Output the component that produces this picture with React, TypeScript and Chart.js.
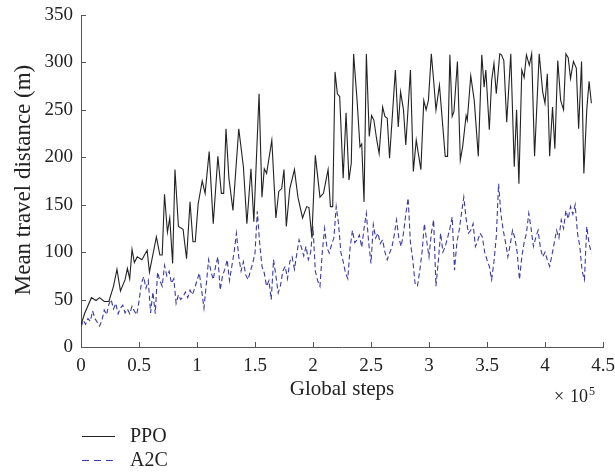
import React, { useEffect, useRef } from "react";
import { Chart, registerables } from "chart.js";

Chart.register(...registerables);

// Global steps in units of 10^5
const ppoSteps = [
  0, 0.03, 0.09, 0.13, 0.16, 0.2, 0.24, 0.28, 0.31, 0.34, 0.38, 0.4, 0.42, 0.44, 0.46, 0.485, 0.525, 0.57, 0.59, 0.65,
  0.68, 0.7, 0.72, 0.745, 0.765, 0.79, 0.81, 0.84, 0.88, 0.91, 0.94, 0.965, 0.985, 1.01, 1.045, 1.07, 1.105, 1.14, 1.18, 1.21,
  1.23, 1.25, 1.275, 1.31, 1.36, 1.4, 1.43, 1.465, 1.49, 1.535, 1.56, 1.58, 1.6, 1.645, 1.68, 1.705, 1.73, 1.75, 1.77, 1.8,
  1.84, 1.87, 1.91, 1.945, 1.965, 1.99, 2.02, 2.06, 2.09, 2.13, 2.15, 2.17, 2.19, 2.21, 2.23, 2.26, 2.285, 2.31, 2.33, 2.35,
  2.38, 2.405, 2.42, 2.44, 2.46, 2.485, 2.505, 2.525, 2.55, 2.57, 2.6, 2.62, 2.64, 2.66, 2.71, 2.735, 2.755, 2.78, 2.8, 2.84,
  2.865, 2.89, 2.93, 2.955, 2.975, 2.995, 3.02, 3.04, 3.06, 3.09, 3.14, 3.16, 3.18, 3.2, 3.215, 3.245, 3.27, 3.29, 3.32, 3.33,
  3.36, 3.39, 3.425, 3.455, 3.475, 3.49, 3.52, 3.54, 3.56, 3.58, 3.61, 3.625, 3.645, 3.67, 3.705, 3.735, 3.755, 3.775, 3.8, 3.82,
  3.84, 3.865, 3.885, 3.91, 3.95, 3.98, 4.0, 4.02, 4.04, 4.065, 4.085, 4.11, 4.135, 4.16, 4.18, 4.2, 4.22, 4.245, 4.27, 4.29,
  4.315, 4.335, 4.36, 4.38, 4.4,
];
const ppoDistance = [
  23, 35, 52, 49, 52, 48, 48, 64, 82, 59, 71, 83, 72, 103, 89, 95, 92, 102, 79, 116,
  97, 97, 161, 121, 136, 88, 187, 127, 124, 93, 153, 111, 111, 151, 175, 162, 206, 130, 201, 162,
  162, 230, 178, 144, 230, 190, 130, 188, 132, 267, 158, 188, 183, 218, 136, 164, 167, 187, 127, 167,
  187, 158, 136, 148, 147, 116, 202, 158, 162, 187, 148, 148, 290, 267, 264, 178, 247, 176, 194, 309,
  260, 211, 214, 153, 309, 222, 244, 239, 218, 204, 253, 243, 241, 199, 292, 232, 269, 250, 213, 292,
  185, 218, 187, 260, 250, 260, 309, 281, 250, 276, 201, 201, 308, 243, 248, 301, 197, 211, 244, 239,
  286, 260, 201, 308, 274, 292, 229, 281, 299, 267, 309, 308, 302, 237, 309, 190, 250, 172, 292, 284,
  308, 297, 309, 201, 309, 269, 257, 288, 201, 253, 209, 302, 260, 250, 309, 305, 283, 301, 294, 230,
  301, 183, 250, 280, 257,
];

const a2cSteps = [
  0, 0.02, 0.04, 0.06, 0.08, 0.1, 0.12, 0.14, 0.16, 0.18, 0.2, 0.22, 0.24, 0.26, 0.28, 0.3, 0.32, 0.34, 0.36, 0.38,
  0.4, 0.42, 0.44, 0.46, 0.48, 0.5, 0.52, 0.54, 0.56, 0.58, 0.6, 0.62, 0.64, 0.66, 0.68, 0.7, 0.72, 0.74, 0.76, 0.78,
  0.8, 0.82, 0.84, 0.86, 0.88, 0.9, 0.92, 0.94, 0.96, 0.98, 1.0, 1.02, 1.04, 1.06, 1.08, 1.1, 1.12, 1.14, 1.16, 1.18,
  1.2, 1.22, 1.24, 1.26, 1.28, 1.3, 1.32, 1.34, 1.36, 1.38, 1.4, 1.42, 1.44, 1.46, 1.48, 1.5, 1.52, 1.54, 1.56, 1.58,
  1.6, 1.62, 1.64, 1.66, 1.68, 1.7, 1.72, 1.74, 1.76, 1.78, 1.8, 1.82, 1.84, 1.86, 1.88, 1.9, 1.92, 1.94, 1.96, 1.98,
  2.0, 2.02, 2.04, 2.06, 2.08, 2.1, 2.12, 2.14, 2.16, 2.18, 2.2, 2.22, 2.24, 2.26, 2.28, 2.3, 2.32, 2.34, 2.36, 2.38,
  2.4, 2.42, 2.44, 2.46, 2.48, 2.5, 2.52, 2.54, 2.56, 2.58, 2.6, 2.62, 2.64, 2.66, 2.68, 2.7, 2.72, 2.74, 2.76, 2.78,
  2.8, 2.82, 2.84, 2.86, 2.88, 2.9, 2.92, 2.94, 2.96, 2.98, 3.0, 3.02, 3.04, 3.06, 3.08, 3.1, 3.12, 3.14, 3.16, 3.18,
  3.2, 3.22, 3.24, 3.26, 3.28, 3.3, 3.32, 3.34, 3.36, 3.38, 3.4, 3.42, 3.44, 3.46, 3.48, 3.5, 3.52, 3.54, 3.56, 3.58,
  3.6, 3.62, 3.64, 3.66, 3.68, 3.7, 3.72, 3.74, 3.76, 3.78, 3.8, 3.82, 3.84, 3.86, 3.88, 3.9, 3.92, 3.94, 3.96, 3.98,
  4.0, 4.02, 4.04, 4.06, 4.08, 4.1, 4.12, 4.14, 4.16, 4.18, 4.2, 4.22, 4.24, 4.26, 4.28, 4.3, 4.32, 4.34, 4.36, 4.38,
  4.4,
];
const a2cDistance = [
  21, 28, 24, 30, 27, 38, 30, 26, 22, 28, 39, 34, 45, 50, 40, 46, 35, 41, 44, 36,
  40, 35, 43, 38, 34, 48, 67, 74, 62, 70, 36, 58, 35, 79, 70, 64, 86, 75, 80, 67,
  72, 46, 55, 50, 53, 58, 52, 60, 55, 62, 70, 78, 60, 41, 66, 92, 80, 71, 85, 95,
  60, 75, 82, 92, 70, 85, 100, 120, 95, 80, 90, 76, 71, 80, 88, 99, 143, 110, 85, 78,
  64, 70, 50, 92, 75, 57, 65, 80, 85, 72, 90, 95, 82, 98, 113, 105, 96, 106, 92, 100,
  127, 80, 70, 64, 100, 125, 105, 99, 108, 115, 148, 130, 100, 90, 78, 72, 105, 123, 110, 113,
  118, 105, 125, 141, 110, 88, 129, 115, 120, 109, 113, 100, 92, 99, 105, 118, 134, 115, 106, 120,
  140, 157, 110, 92, 67, 64, 80, 100, 130, 112, 95, 120, 134, 64, 90, 120, 100, 106, 115, 125,
  137, 81, 110, 123, 141, 158, 135, 120, 123, 130, 106, 112, 120, 116, 100, 92, 85, 71, 90, 116,
  172, 140, 123, 110, 95, 108, 123, 115, 100, 71, 95, 110, 120, 141, 125, 106, 115, 123, 105, 95,
  100, 92, 85, 97, 110, 123, 115, 134, 125, 144, 135, 148, 140, 150, 120, 106, 80, 71, 127, 109,
  99,
];

const xTickValues = [0, 0.5, 1, 1.5, 2, 2.5, 3, 3.5, 4, 4.5];
const yTickValues = [0, 50, 100, 150, 200, 250, 300, 350];
const seriesNames = ["PPO", "A2C"];
const xTitle = "Global steps";
const yTitle = "Mean travel distance (m)";

const PPO_COLOR = "#222222";
const A2C_COLOR = "#3a3aa6";
const TEXT_COLOR = "#222";
const AXIS_COLOR = "#555";
const FONT = '"Liberation Serif", "DejaVu Serif", serif';

const decorPlugin = {
  id: "decor",
  afterDraw(chart: any) {
    const ctx = chart.ctx as CanvasRenderingContext2D;
    const xs = chart.scales.x;
    const ys = chart.scales.y;
    const area = chart.chartArea;
    ctx.save();
    // inward ticks
    ctx.strokeStyle = AXIS_COLOR;
    ctx.lineWidth = 1;
    ctx.beginPath();
    xTickValues.forEach((v) => {
      const px = Math.round(xs.getPixelForValue(v)) + 0.5;
      ctx.moveTo(px, area.bottom);
      ctx.lineTo(px, area.bottom - 5);
    });
    yTickValues.forEach((v) => {
      const py = Math.round(ys.getPixelForValue(v)) + 0.5;
      ctx.moveTo(area.left, py);
      ctx.lineTo(area.left + 5, py);
    });
    ctx.stroke();

    ctx.fillStyle = TEXT_COLOR;
    // y title
    ctx.save();
    ctx.translate(24, 180);
    ctx.rotate(-Math.PI / 2);
    ctx.font = `23px ${FONT}`;
    ctx.textAlign = "center";
    ctx.textBaseline = "middle";
    ctx.fillText(yTitle, 0, 0);
    ctx.restore();

    // x title
    ctx.font = `21px ${FONT}`;
    ctx.textAlign = "center";
    ctx.textBaseline = "alphabetic";
    ctx.fillText(xTitle, (area.left + area.right) / 2, 395);

    // x10^5
    ctx.textAlign = "left";
    ctx.font = `18px ${FONT}`;
    ctx.fillText("\u00d7", 554, 402);
    ctx.fillText("10", 570, 402);
    ctx.font = `12px ${FONT}`;
    ctx.fillText("5", 589, 395);

    // legend
    ctx.lineWidth = 1.2;
    ctx.strokeStyle = PPO_COLOR;
    ctx.setLineDash([]);
    ctx.beginPath();
    ctx.moveTo(82, 436.5);
    ctx.lineTo(115, 436.5);
    ctx.stroke();
    ctx.strokeStyle = A2C_COLOR;
    ctx.setLineDash([7, 5]);
    ctx.beginPath();
    ctx.moveTo(82, 460.5);
    ctx.lineTo(115, 460.5);
    ctx.stroke();
    ctx.setLineDash([]);
    ctx.font = `20px ${FONT}`;
    ctx.fillStyle = TEXT_COLOR;
    ctx.fillText(seriesNames[0], 130, 442);
    ctx.fillText(seriesNames[1], 130, 466);
    ctx.restore();
  },
};

export default function App() {
  const canvasRef = useRef<HTMLCanvasElement | null>(null);

  useEffect(() => {
    if (!canvasRef.current) return;
    const chart = new Chart(canvasRef.current, {
      type: "line",
      data: {
        datasets: [
          {
            label: seriesNames[0],
            data: ppoSteps.map((x, i) => ({ x, y: ppoDistance[i] })),
            borderColor: PPO_COLOR,
            borderWidth: 1.1,
            pointRadius: 0,
            tension: 0,
            fill: false,
          },
          {
            label: seriesNames[1],
            data: a2cSteps.map((x, i) => ({ x, y: a2cDistance[i] })),
            borderColor: A2C_COLOR,
            borderWidth: 1.1,
            borderDash: [5, 3],
            pointRadius: 0,
            tension: 0,
            fill: false,
          },
        ],
      },
      options: {
        animation: false,
        responsive: false,
        layout: { padding: { left: 0, right: 12, top: 15, bottom: 0 } },
        plugins: {
          legend: { display: false },
          tooltip: { enabled: false },
        },
        scales: {
          x: {
            type: "linear",
            min: 0,
            max: 4.5,
            afterFit: (s: any) => {
              s.height = 128;
              s.paddingLeft = 0;
              s.paddingRight = 0;
            },
            afterBuildTicks: (s: any) => {
              s.ticks = xTickValues.map((v) => ({ value: v }));
            },
            grid: { display: false, drawTicks: false },
            border: { display: true, color: AXIS_COLOR, width: 1 },
            ticks: {
              padding: 8,
              color: TEXT_COLOR,
              font: { family: FONT, size: 19 },
              maxRotation: 0,
              autoSkip: false,
              callback: (v: any) => String(Number(v)),
            },
          },
          y: {
            type: "linear",
            min: 0,
            max: 350,
            afterFit: (s: any) => {
              s.width = 81;
              s.paddingTop = 0;
              s.paddingBottom = 0;
            },
            afterBuildTicks: (s: any) => {
              s.ticks = yTickValues.map((v) => ({ value: v }));
            },
            grid: { display: false, drawTicks: false },
            border: { display: true, color: AXIS_COLOR, width: 1 },
            ticks: {
              padding: 8,
              color: TEXT_COLOR,
              font: { family: FONT, size: 19 },
              autoSkip: false,
              callback: (v: any) => String(Number(v)),
            },
          },
        },
      },
      plugins: [decorPlugin],
    });
    return () => chart.destroy();
  }, []);

  return (
    <div style={{ position: "absolute", left: 0, top: 0, width: 615, height: 475, background: "#fff" }}>
      <canvas ref={canvasRef} width={615} height={475} style={{ display: "block" }} />
    </div>
  );
}
